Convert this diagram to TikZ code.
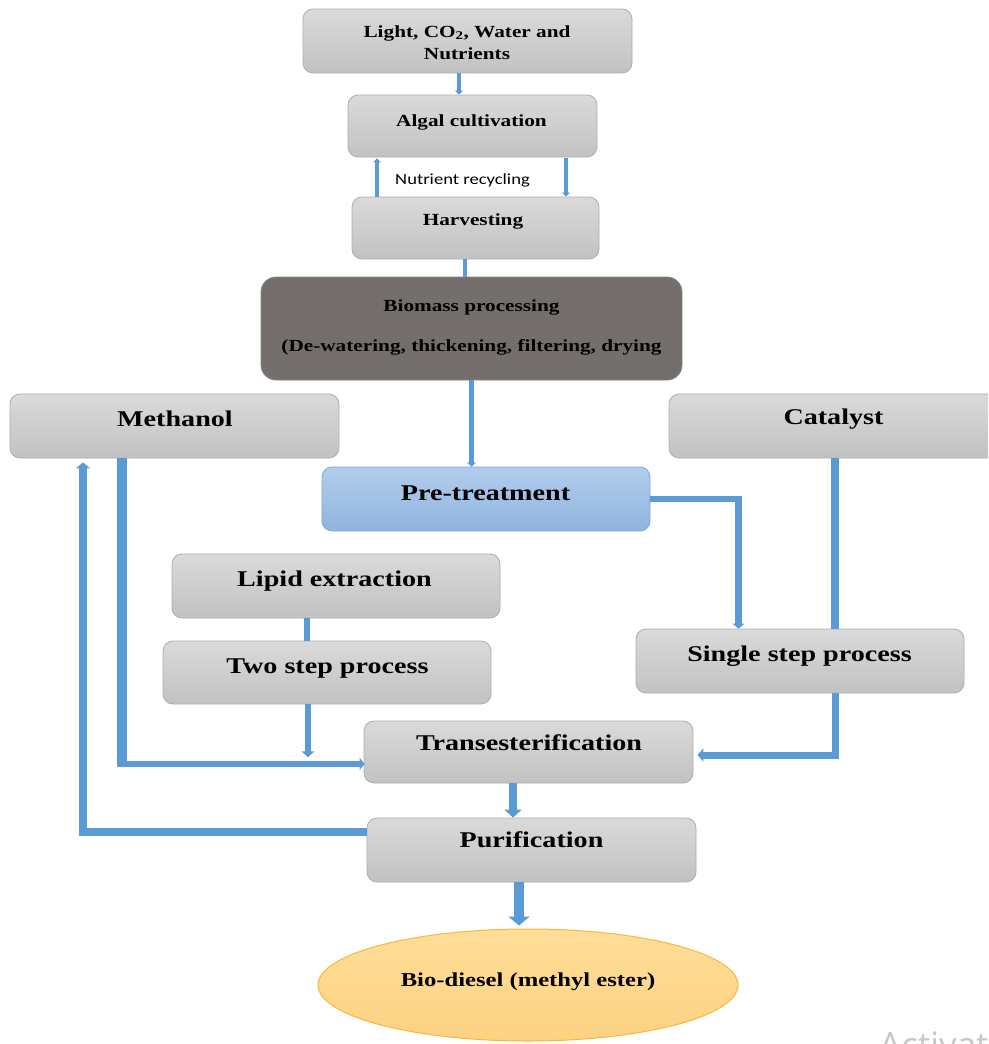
\documentclass[tikz,border=0pt]{standalone}
\usepackage{fontspec}
\setmainfont{Liberation Serif}[FakeStretch=1.25]
\newfontfamily\sansf{Carlito}[FakeStretch=1.2]
\newfontfamily\wmfont{Open Sans}
\usetikzlibrary{arrows.meta,shapes.geometric}
\definecolor{ablue}{HTML}{5B9BD5}
\definecolor{gtop}{HTML}{DADADA}
\definecolor{gbot}{HTML}{C2C2C2}
\definecolor{gline}{HTML}{ADADAD}
\definecolor{darkbox}{HTML}{746F6D}
\definecolor{btop}{HTML}{B2CDEC}
\definecolor{bbot}{HTML}{90B4E0}
\definecolor{bline}{HTML}{7AA7DC}
\definecolor{etop}{HTML}{FFDE98}
\definecolor{ebot}{HTML}{FDD283}
\definecolor{eline}{HTML}{F5B83D}
\tikzset{
  gbox/.style={draw=gline, line width=0.8pt, rounded corners=10pt, top color=gtop, bottom color=gbot, inner sep=0pt},
  bigl/.style={font=\fontsize{22.5}{27}\selectfont\bfseries, anchor=base, inner sep=0pt},
  smalll/.style={font=\fontsize{17}{20}\selectfont\bfseries, anchor=base, inner sep=0pt},
  pipe/.style={draw=ablue, line cap=butt, line join=miter},
}
\begin{document}
\begin{tikzpicture}[x=1pt,y=-1pt]
\useasboundingbox (0,0) rectangle (988,1044);
\clip (0,0) rectangle (988,1044);

% boxes
\node[gbox, minimum width=329, minimum height=64] (light) at (467.5,41) {};
\node[gbox, minimum width=249, minimum height=62] (algal) at (472.5,126) {};
\node[gbox, minimum width=247, minimum height=62] (harv) at (475.5,228) {};
\node[draw=darkbox!85!white, line width=0.8pt, fill=darkbox, rounded corners=15pt, minimum width=421, minimum height=103, inner sep=0pt] (bio) at (471.5,328.5) {};
\node[gbox, minimum width=329, minimum height=64] (meth) at (174.5,426) {};
\node[gbox, minimum width=329, minimum height=64] (cat) at (833.5,426) {};
\node[draw=bline, line width=0.8pt, rounded corners=10pt, top color=btop, bottom color=bbot, minimum width=328, minimum height=64, inner sep=0pt] (pre) at (486,499) {};
\node[gbox, minimum width=328, minimum height=64] (lipid) at (336,586) {};
\node[gbox, minimum width=328, minimum height=63] (two) at (327,672.5) {};
\node[gbox, minimum width=328, minimum height=64] (single) at (800,661) {};
\node[gbox, minimum width=329, minimum height=62] (trans) at (528.5,752) {};
\node[gbox, minimum width=329, minimum height=64] (pur) at (531.5,850) {};
\node[ellipse, draw=eline, line width=1pt, top color=etop, bottom color=ebot, minimum width=420, minimum height=112, inner sep=0pt] (ell) at (528,985) {};

% labels
\node[smalll] (tlight1) at (467,37) {Light, CO\textsubscript{2}, Water and};
\node[smalll] (tlight2) at (467,59) {Nutrients};
\node[smalll] (talgal) at (471.5,126) {Algal cultivation};
\node[anchor=base, inner sep=0pt, font=\sansf\fontsize{15.5}{18}\selectfont] (tnut) at (462.5,184) {Nutrient recycling};
\node[smalll] (tharv) at (473,225) {Harvesting};
\node[smalll] (tbio1) at (471.5,311.5) {Biomass processing};
\node[smalll] (tbio2) at (471.5,351) {(De-watering, thickening, filtering, drying};
\node[bigl] (tmeth) at (175,426.5) {Methanol};
\node[bigl] (tcat) at (833.5,424) {Catalyst};
\node[bigl] (tpre) at (485.5,500) {Pre-treatment};
\node[bigl] (tlipid) at (334.5,586.5) {Lipid extraction};
\node[bigl] (ttwo) at (327.5,673) {Two step process};
\node[bigl] (tsingle) at (799.5,661.5) {Single step process};
\node[bigl] (ttrans) at (529,750) {Transesterification};
\node[bigl] (tpur) at (531.5,847.5) {Purification};
\node[font=\fontsize{19.7}{23}\selectfont\bfseries, anchor=base, inner sep=0pt] (tell) at (528,986.5) {Bio-diesel (methyl ester)};
\node[anchor=base west, inner sep=0pt, text=black!22, font=\wmfont\fontsize{35}{40}\selectfont] (wm) at (879,1057) {Activat};

% connectors
\draw[pipe, line width=3.5pt, -{Triangle[width=8pt,length=4pt]}] ([xshift=-8.5]light.south) -- ([xshift=-8.5]light.south |- algal.north);
\draw[pipe, line width=3.5pt, -{Triangle[width=8pt,length=4pt]}] ([xshift=-98.5]harv.north) -- ([xshift=-98.5,yshift=-1]harv.north |- algal.south);
\draw[pipe, line width=3.5pt, -{Triangle[width=8pt,length=4pt]}] ([xshift=93.5,yshift=-1]algal.south) -- ([xshift=93.5]algal.south |- harv.north);
\draw[pipe, line width=4pt] ([xshift=-11]harv.south) -- ([xshift=-11]harv.south |- bio.north);
\draw[pipe, line width=4.5pt, -{Triangle[width=9pt,length=4pt]}] (bio.south) -- (bio.south |- pre.north);
\draw[pipe, line width=6.5pt, -{Triangle[width=12pt,length=5pt]}] (pre.east) -| ([xshift=-61.5]single.north);
\draw[pipe, line width=7.5pt] ([xshift=1.5]cat.south) -- ([xshift=1.5]cat.south |- single.north);
\draw[pipe, line width=7pt, -{Triangle[width=13pt,length=6pt]}] ([xshift=35]single.south) |- ([xshift=4,yshift=-3]trans.east);
\coordinate (mcorner) at ([xshift=-53]meth.south);
\coordinate (mcorner2) at ([yshift=-309]mcorner);
\draw[pipe, line width=10pt] (mcorner) -- (mcorner2);
\draw[pipe, line width=6.5pt, -{Triangle[width=12pt,length=5pt]}] ([xshift=5,yshift=3.5]mcorner2) -- ([xshift=1,yshift=3.5]mcorner2 -| trans.west);
\draw[pipe, line width=6pt] ([xshift=-29]lipid.south) -- ([xshift=-29]lipid.south |- two.north);
\draw[pipe, line width=6pt, -{Triangle[width=12pt,length=6pt]}] ([xshift=-19]two.south) -- ++(0,53);
\draw[pipe, line width=8pt, -{Triangle[width=17pt,length=8pt]}] ([xshift=-15.5]trans.south) -- ([xshift=-15.5]trans.south |- pur.north);
\draw[pipe, line width=8pt, -{Triangle[width=14pt,length=6pt]}] ([yshift=18]pur.west) -| ([xshift=-91.5,yshift=-4]meth.south);
\draw[pipe, line width=9.5pt, -{Triangle[width=21pt,length=9pt]}] ([xshift=-12.5]pur.south) -- ([xshift=-12.5,yshift=3]pur.south |- ell.north);
\end{tikzpicture}
\end{document}
